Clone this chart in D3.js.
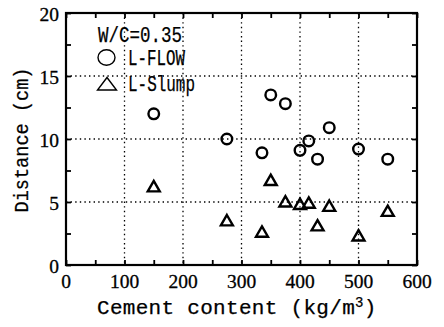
<!DOCTYPE html>
<html><head><meta charset="utf-8">
<script src="https://cdn.jsdelivr.net/npm/d3@7"></script>
<style>html,body{margin:0;padding:0;background:#fff;}</style>
</head><body>
<svg id="c" width="444" height="327"></svg>
<script>
const cement = [150, 275, 335, 350, 375, 400, 415, 430, 450, 500, 550];
const lFlow  = [12.0, 10.0, 8.9, 13.5, 12.8, 9.1, 9.85, 8.4, 10.9, 9.2, 8.4];
const lSlump = [6.2, 3.5, 2.6, 6.7, 5.0, 4.8, 4.9, 3.1, 4.65, 2.3, 4.25];
const xTicks = [0, 100, 200, 300, 400, 500, 600];
const yTicks = [0, 5, 10, 15, 20];
const legendTitle = "W/C=0.35";
const seriesNames = ["L-FLOW", "L-Slump"];

const svg = d3.select("#c");
const L = 66, R = 417, T = 13, B = 265;
const x = d3.scaleLinear().domain([0, 600]).range([L, R]);
const y = d3.scaleLinear().domain([0, 20]).range([B, T]);
const monoF = "'Liberation Mono', 'DejaVu Sans Mono', monospace";
const serifF = "'Liberation Serif', 'DejaVu Serif', serif";

// grid
const g = svg.append("g");
g.selectAll("line.gx").data(xTicks.slice(1, -1)).join("line")
  .attr("x1", d => x(d)).attr("x2", d => x(d)).attr("y1", T).attr("y2", B)
  .attr("stroke", "#000").attr("stroke-width", 1.3).attr("stroke-dasharray", "1.4,3.2");
g.selectAll("line.gy").data(yTicks.slice(1, -1)).join("line")
  .attr("y1", d => y(d)).attr("y2", d => y(d)).attr("x1", L).attr("x2", R)
  .attr("stroke", "#000").attr("stroke-width", 1.3).attr("stroke-dasharray", "1.4,3.2");

// axes (inward ticks, all four sides)
const xMinor = d3.range(0, 601, 50);
const yMinor = d3.range(0, 20.01, 2.5);
function styleAxis(sel) {
  sel.select(".domain").remove();
  sel.selectAll(".tick line").attr("stroke", "#000").attr("stroke-width", 1.8);
  sel.selectAll("text").remove();
}
svg.append("g").attr("transform", `translate(0,${B})`)
  .call(d3.axisBottom(x).tickValues(xMinor).tickSize(-5)).call(styleAxis);
svg.append("g").attr("transform", `translate(0,${T})`)
  .call(d3.axisTop(x).tickValues(xMinor).tickSize(-5)).call(styleAxis);
svg.append("g").attr("transform", `translate(${L},0)`)
  .call(d3.axisLeft(y).tickValues(yMinor).tickSize(-5)).call(styleAxis);
svg.append("g").attr("transform", `translate(${R},0)`)
  .call(d3.axisRight(y).tickValues(yMinor).tickSize(-5)).call(styleAxis);

// frame
svg.append("rect").attr("x", L).attr("y", T).attr("width", R - L).attr("height", B - T)
  .attr("fill", "none").attr("stroke", "#000").attr("stroke-width", 2.2);

// tick labels
svg.selectAll("text.xt").data(xTicks).join("text")
  .attr("x", d => x(d)).attr("y", 288)
  .attr("text-anchor", "middle").attr("font-family", serifF).attr("font-size", 19.5)
  .attr("stroke", "#000").attr("stroke-width", 0.3)
  .text(d => d);
svg.selectAll("text.yt").data(yTicks).join("text")
  .attr("x", 59).attr("y", d => y(d) + 8)
  .attr("text-anchor", "end").attr("font-family", serifF).attr("font-size", 19.5)
  .attr("stroke", "#000").attr("stroke-width", 0.3)
  .text(d => d);

// axis titles
const xt = svg.append("text").attr("x", 97).attr("y", 314)
  .attr("font-family", monoF).attr("font-size", 21).attr("letter-spacing", 0.3)
  .attr("stroke", "#000").attr("stroke-width", 0.25);
xt.append("tspan").text("Cement content (kg/m");
xt.append("tspan").attr("dy", -7).attr("font-size", 14).text("3");
xt.append("tspan").attr("dy", 7).text(")");

svg.append("text").attr("transform", "translate(28,140) rotate(-90)")
  .attr("text-anchor", "middle").attr("font-family", monoF).attr("font-size", 20.5)
  .attr("stroke", "#000").attr("stroke-width", 0.25)
  .attr("textLength", 145).attr("lengthAdjust", "spacingAndGlyphs")
  .text("Distance (cm)");

// data markers
const pts = cement.map((c, i) => ({c, f: lFlow[i], s: lSlump[i]}));
svg.selectAll("circle.f").data(pts).join("circle")
  .attr("cx", d => x(d.c)).attr("cy", d => y(d.f)).attr("r", 5.3)
  .attr("fill", "none").attr("stroke", "#000").attr("stroke-width", 2.4);
const tri = d3.symbol().type(d3.symbolTriangle).size(62);
svg.selectAll("path.s").data(pts).join("path")
  .attr("transform", d => `translate(${x(d.c)},${y(d.s) + 1})`)
  .attr("d", tri())
  .attr("fill", "none").attr("stroke", "#000").attr("stroke-width", 2.4).attr("stroke-linejoin", "miter");

// legend
function legText(t, xx, yy, len) {
  svg.append("text").attr("x", xx).attr("y", yy)
    .attr("font-family", monoF).attr("font-size", 21.5)
    .attr("stroke", "#000").attr("stroke-width", 0.25)
    .attr("textLength", len).attr("lengthAdjust", "spacingAndGlyphs").text(t);
}
legText(legendTitle, 98, 41.5, 84);
svg.append("ellipse").attr("cx", 106.5).attr("cy", 57.5).attr("rx", 8.5).attr("ry", 7.8)
  .attr("fill", "none").attr("stroke", "#000").attr("stroke-width", 1.4);
svg.append("path")
  .attr("d", d3.line()([[97.5, 90], [116.5, 90], [107, 77.5]]) + "Z")
  .attr("fill", "none").attr("stroke", "#000").attr("stroke-width", 1.4);
legText(seriesNames[0], 128, 64.5, 57);
legText(seriesNames[1], 128, 90.5, 67);
</script>
</body></html>
